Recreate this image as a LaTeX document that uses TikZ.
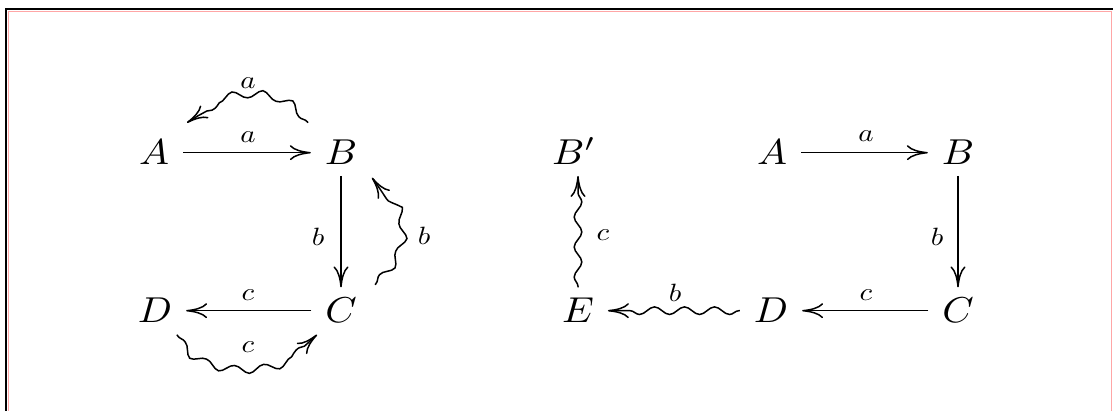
\documentclass[tikz,border=0pt]{standalone}
\usepackage{graphicx}
\usetikzlibrary{arrows.meta,decorations.pathmorphing}
\newcommand{\objm}[1]{\scalebox{4.0}[3.6]{$#1$}}
\newcommand{\labm}[1]{\scalebox{2.9}[2.5]{$#1$}}
\begin{document}
\begin{tikzpicture}[x=1pt,y=1pt,
  obj/.style={inner sep=0pt,outer xsep=14pt,outer ysep=11pt,anchor=base},
  lab/.style={inner sep=0pt},
  tipstyle/.style={-{Computer Modern Rightarrow[length=21pt,width=15pt]}},
  arr/.style={line width=1.5pt,tipstyle},
  wavy/.style={line width=1.5pt,tipstyle,decorate,
    decoration={snake,amplitude=3.8pt,segment length=30pt,post length=13pt,pre length=1pt}},
  framel/.style={line width=2.5pt,black},
  framein/.style={line width=0.8pt,red!35}]
\useasboundingbox (0,0) rectangle (1113,411);
% frame
\draw[framel] (6,0) -- (6,402) -- (1113,402);
\draw[framein] (8.7,0) -- (8.7,399.6) -- (1111,399.6) -- (1111,0);
% left diagram
\node[obj] (lA) at (154,246) {\objm{A}};
\node[obj] (lB) at (341,246) {\objm{B}};
\node[obj] (lC) at (341,88) {\objm{C}};
\node[obj] (lD) at (155,88) {\objm{D}};
\draw[arr] (lA) -- (lB);
\draw[arr] (lB) -- (lC);
\draw[arr] (lC) -- (lD);
\draw[wavy] ([shift={(-33,30)}]lB.center) .. controls +(-25,35) and +(35,25) .. ([shift={(33,30)}]lA.center);
\draw[wavy] ([shift={(34,26)}]lC.center) .. controls +(35,35) and +(30,-40) .. ([shift={(31,-25)}]lB.center);
\draw[wavy] ([shift={(22,-24)}]lD.center) .. controls +(20,-40) and +(-30,-35) .. ([shift={(-24,-24)}]lC.center);
\node[lab] (la1) at (248,328) {\labm{a}};
\node[lab] (la2) at (248,274) {\labm{a}};
\node[lab] (lb1) at (318,174) {\labm{b}};
\node[lab] (lb2) at (424,175) {\labm{b}};
\node[lab] (lc1) at (248,116) {\labm{c}};
\node[lab] (lc2) at (248,64) {\labm{c}};
% right diagram
\node[obj] (rBp) at (574,246) {\objm{B'}};
\node[obj] (rA) at (772,246) {\objm{A}};
\node[obj] (rB) at (958,246) {\objm{B}};
\node[obj] (rE) at (578,88) {\objm{E}};
\node[obj] (rD) at (771,88) {\objm{D}};
\node[obj] (rC) at (958,88) {\objm{C}};
\draw[arr] (rA) -- (rB);
\draw[arr] (rB) -- (rC);
\draw[arr] (rC) -- (rD);
\draw[wavy] (rD) -- (rE);
\draw[wavy] (rE.north) -- (rE.north |- rBp.south);
\node[lab] (ra) at (866,275) {\labm{a}};
\node[lab] (rb1) at (937,174) {\labm{b}};
\node[lab] (rc1) at (866,116) {\labm{c}};
\node[lab] (rb2) at (675,118) {\labm{b}};
\node[lab] (rc2) at (603,176) {\labm{c}};
\end{tikzpicture}
\end{document}
